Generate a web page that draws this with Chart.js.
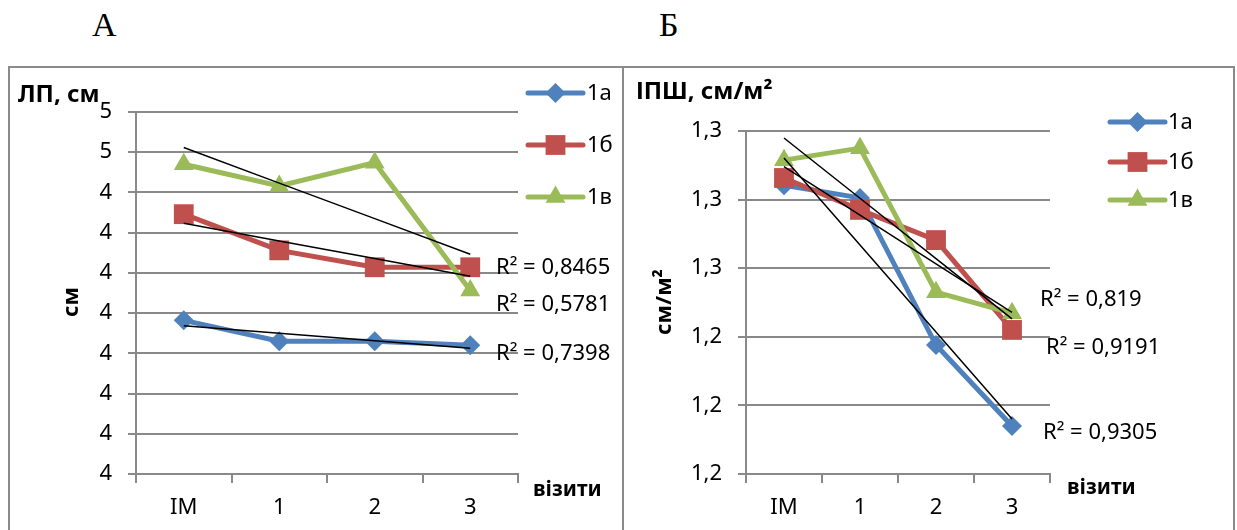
<!DOCTYPE html>
<html>
<head>
<meta charset="utf-8">
<script src="https://cdn.jsdelivr.net/npm/chart.js@4.4.1/dist/chart.umd.min.js"></script>
<style>
  html, body { margin: 0; padding: 0; background: #fff; width: 1237px; height: 530px; overflow: hidden; }
  .panel { position: absolute; top: 66px; height: 470px; border: 2px solid #8a8a8a; background: #fff; }
  #boxA { left: 8px; width: 612px; }
  #boxB { left: 622px; width: 609px; }
  .letter { position: absolute; top: 6px; font: 34px "Liberation Serif", serif; color: #000; }
  canvas { display: block; }
</style>
</head>
<body>
<div class="letter" style="left:92px">А</div>
<div class="letter" style="left:659px">Б</div>
<div class="panel" id="boxA"><canvas id="chartA" width="612" height="470"></canvas></div>
<div class="panel" id="boxB"><canvas id="chartB" width="609" height="470"></canvas></div>
<script>
// Категорії (візити) та групи
const visits = ['IM', '1', '2', '3'];
const groups = ['1а', '1б', '1в'];

// А: ЛП, см
const lp1a = [4.291, 4.265, 4.265, 4.260];
const lp1b = [4.423, 4.378, 4.357, 4.357];
const lp1v = [4.485, 4.458, 4.487, 4.328];
const ticksA = [4.10, 4.15, 4.20, 4.25, 4.30, 4.35, 4.40, 4.45, 4.50, 4.55];
const tickLabelsA = ['4', '4', '4', '4', '4', '4', '4', '4', '5', '5'];
const r2A = ['R² = 0,8465', 'R² = 0,5781', 'R² = 0,7398'];

// Б: ІПШ, см/м²
const ipsh1a = [1.2842, 1.2805, 1.2376, 1.2140];
const ipsh1b = [1.2863, 1.2770, 1.2682, 1.2420];
const ipsh1v = [1.2915, 1.2950, 1.2530, 1.2469];
const ticksB = [1.20, 1.22, 1.24, 1.26, 1.28, 1.30];
const tickLabelsB = ['1,2', '1,2', '1,2', '1,3', '1,3', '1,3'];
const r2B = ['R² = 0,819', 'R² = 0,9191', 'R² = 0,9305'];

const colors = ['#4F81BD', '#C0504D', '#9BBB59'];
const markers = ['rectRot', 'rect', 'triangle'];
const markerSize = [10, 14, 11.5];
const gridColor = '#898989';
const FONT = '"Noto Sans", "DejaVu Sans", sans-serif';

// лінійний тренд (як у Excel)
function linTrend(vals) {
  const n = vals.length;
  const mx = (n - 1) / 2;
  const my = vals.reduce((s, v) => s + v, 0) / n;
  let sxy = 0, sxx = 0;
  vals.forEach((v, i) => { sxy += (i - mx) * (v - my); sxx += (i - mx) * (i - mx); });
  const k = sxy / sxx;
  return vals.map((_, i) => my + k * (i - mx));
}

function drawMarker(ctx, style, x, y, r, color) {
  ctx.save();
  ctx.fillStyle = color;
  ctx.beginPath();
  if (style === 'rectRot') {
    ctx.moveTo(x, y - r); ctx.lineTo(x + r, y); ctx.lineTo(x, y + r); ctx.lineTo(x - r, y);
  } else if (style === 'rect') {
    const h = r * Math.SQRT1_2;
    ctx.rect(x - h, y - h, 2 * h, 2 * h);
  } else {
    const s = Math.sin(Math.PI / 3) * r;
    ctx.moveTo(x, y - r); ctx.lineTo(x + s, y + r / 2); ctx.lineTo(x - s, y + r / 2);
  }
  ctx.closePath();
  ctx.fill();
  ctx.restore();
}

// Підписи, легенда, R²
const panelText = {
  id: 'panelText',
  afterDraw(chart, args, o) {
    const ctx = chart.ctx;
    ctx.save();
    ctx.fillStyle = '#000';
    ctx.textBaseline = 'middle';
    ctx.textAlign = 'left';

    ctx.font = 'bold 24px ' + FONT;
    ctx.fillText(o.title, o.titlePos[0], o.titlePos[1]);
    ctx.font = 'bold 21px ' + FONT;
    ctx.fillText('візити', o.xTitlePos[0], o.xTitlePos[1]);

    ctx.save();
    ctx.translate(o.yTitlePos[0], o.yTitlePos[1]);
    ctx.rotate(-Math.PI / 2);
    ctx.textAlign = 'center';
    ctx.font = 'bold 22px ' + FONT;
    ctx.fillText(o.yTitle, 0, 0);
    ctx.restore();

    ctx.font = '22px ' + FONT;
    o.r2.forEach((t, i) => ctx.fillText(t, o.r2Pos[i][0], o.r2Pos[i][1]));

    groups.forEach((g, i) => {
      const y = o.legendY[i];
      ctx.strokeStyle = colors[i];
      ctx.lineWidth = 5;
      ctx.lineCap = 'round';
      ctx.beginPath();
      ctx.moveTo(o.legendX[0], y);
      ctx.lineTo(o.legendX[1], y);
      ctx.stroke();
      drawMarker(ctx, markers[i], (o.legendX[0] + o.legendX[1]) / 2, y, markerSize[i], colors[i]);
      ctx.fillStyle = '#000';
      ctx.fillText(g, o.legendX[2], y + 1);
    });
    ctx.restore();
  }
};

function makeChart(id, series, ticks, tickLabels, area, text) {
  const datasets = [];
  series.forEach((vals) => {
    datasets.push({
      data: linTrend(vals),
      borderColor: '#000',
      borderWidth: 1.5,
      pointRadius: 0,
      order: 0
    });
  });
  series.forEach((vals, i) => {
    datasets.push({
      label: groups[i],
      data: vals,
      borderColor: colors[i],
      backgroundColor: colors[i],
      borderWidth: 5,
      pointStyle: markers[i],
      pointRadius: markerSize[i],
      pointBorderWidth: 0,
      order: 3 - i
    });
  });

  return new Chart(document.getElementById(id), {
    type: 'line',
    data: { labels: visits, datasets: datasets },
    plugins: [panelText],
    options: {
      responsive: false,
      animation: false,
      events: [],
      layout: { padding: { left: 0, top: area.top, right: area.right, bottom: 0 } },
      plugins: {
        legend: { display: false },
        tooltip: { enabled: false },
        panelText: text
      },
      scales: {
        x: {
          offset: true,
          afterFit: s => { s.height = area.xHeight; },
          grid: { offset: true, drawOnChartArea: false, tickLength: 9, color: gridColor, lineWidth: 2 },
          border: { color: gridColor, width: 2 },
          ticks: { color: '#000', font: { family: FONT, size: 22 }, padding: 12 }
        },
        y: {
          min: ticks[0],
          max: ticks[ticks.length - 1],
          afterFit: s => { s.width = area.yWidth; },
          afterBuildTicks: s => { s.ticks = ticks.map(v => ({ value: v })); },
          grid: { color: gridColor, lineWidth: 2, tickLength: 8 },
          border: { color: gridColor, width: 2 },
          ticks: {
            color: '#000',
            font: { family: FONT, size: 22 },
            padding: 16,
            callback: (v, i) => tickLabels[i]
          }
        }
      }
    }
  });
}

makeChart('chartA', [lp1a, lp1b, lp1v], ticksA, tickLabelsA,
  { top: 44, right: 104, yWidth: 126, xHeight: 64 },
  {
    title: 'ЛП, см', titlePos: [8, 27],
    yTitle: 'см', yTitlePos: [62, 234],
    xTitlePos: [523, 422],
    r2: r2A, r2Pos: [[486, 200], [486, 237], [486, 286]],
    legendX: [518, 573, 577], legendY: [25, 77, 129]
  });

makeChart('chartB', [ipsh1a, ipsh1b, ipsh1v], ticksB, tickLabelsB,
  { top: 63, right: 183, yWidth: 122, xHeight: 64 },
  {
    title: 'ІПШ, см/м²', titlePos: [12, 24],
    yTitle: 'см/м²', yTitlePos: [41, 234],
    xTitlePos: [443, 420],
    r2: r2B, r2Pos: [[416, 232], [422, 280], [419, 365]],
    legendX: [486, 541, 544], legendY: [54, 94, 132]
  });
</script>
</body>
</html>
